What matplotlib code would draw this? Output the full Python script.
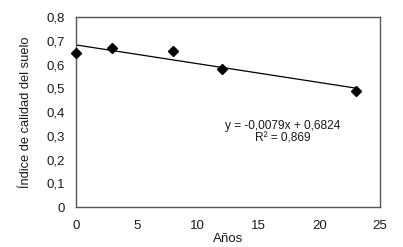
import matplotlib
matplotlib.use('Agg')
import matplotlib.pyplot as plt
import numpy as np

plt.rcParams['font.family'] = ['Liberation Sans', 'DejaVu Sans']

years = [0, 3, 8, 12, 23]
quality = [0.650, 0.669, 0.657, 0.580, 0.490]
slope = -0.0079
intercept = 0.6824
eq_text = "y = -0,0079x + 0,6824\nR² = 0,869"
xticks = [0, 5, 10, 15, 20, 25]
yticks = [0, 0.1, 0.2, 0.3, 0.4, 0.5, 0.6, 0.7, 0.8]


def fmt(v):
    return ("%g" % v).replace('.', ',')


fig = plt.figure(figsize=(4.03, 2.47), dpi=100)
ax = fig.add_axes([76 / 403, 1 - 207 / 247, 304 / 403, 190 / 247])

trend_x = np.array([min(years), max(years)])
ax.plot(trend_x, slope * trend_x + intercept, color='black', lw=0.9, zorder=2)
ax.plot(years, quality, linestyle='none', marker='D', markersize=5.5,
        color='black', zorder=3, clip_on=False)

ax.set_xlim(0, 25)
ax.set_ylim(0, 0.8)
ax.set_xticks(xticks)
ax.set_xticklabels([fmt(v) for v in xticks])
ax.set_yticks(yticks)
ax.set_yticklabels([fmt(v) for v in yticks])
ax.tick_params(length=0, labelsize=9.5, colors='#1a1a1a')
ax.tick_params(axis='x', pad=9)
ax.tick_params(axis='y', pad=8)

for s in ax.spines.values():
    s.set_color('#555555')
    s.set_linewidth(1.0)

ax.text(17.0, 0.315, eq_text, ha='center', va='center', fontsize=8.6,
        linespacing=1.05, color='#1a1a1a')

ax.set_xlabel("Años", fontsize=9.5, labelpad=1, color='#1a1a1a')
ax.set_ylabel("Índice de calidad del suelo", fontsize=9.3, labelpad=10,
              color='#1a1a1a')

fig.savefig('out.png', dpi=100)
